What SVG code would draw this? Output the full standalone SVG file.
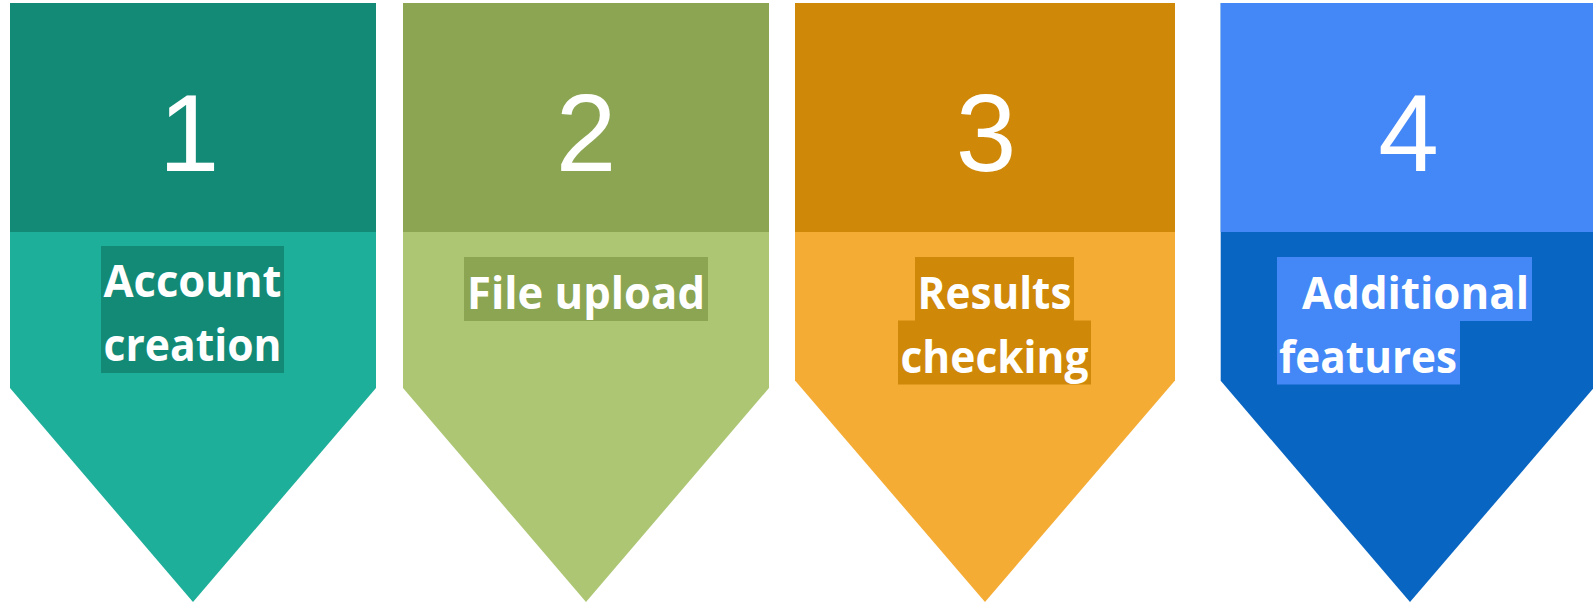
<svg xmlns="http://www.w3.org/2000/svg" width="1593" height="604" viewBox="0 0 1593 604">
<style>
.num{font-family:"Liberation Sans",Arial,sans-serif;font-size:109px;fill:#ffffff;text-anchor:middle}
.lbl{font-family:"Open Sans","Liberation Sans",sans-serif;font-weight:bold;font-size:45px;fill:#ffffff}
.mid{text-anchor:middle}
</style>
<rect width="1593" height="604" fill="#ffffff"/>
<g id="node1">
<polygon points="10,3 376,3 376,388 193,602 10,388" fill="#1DAF99"/>
<rect x="10" y="3" width="366" height="229" fill="#138A76"/>
<text class="num" x="189" y="171">1</text>
<rect x="101" y="246" width="183" height="127" fill="#138A76"/>
<text class="lbl mid" x="192.5" y="296.5" textLength="178" lengthAdjust="spacingAndGlyphs">Account</text>
<text class="lbl mid" x="192.5" y="360.5" textLength="178" lengthAdjust="spacingAndGlyphs">creation</text>
</g>
<g id="node2">
<polygon points="403,3 769,3 769,388 586,602 403,388" fill="#ADC673"/>
<rect x="403" y="3" width="366" height="229" fill="#8BA552"/>
<text class="num" x="586" y="171">2</text>
<rect x="464" y="257" width="244" height="64" fill="#8BA552"/>
<text class="lbl mid" x="586" y="308.5" textLength="238" lengthAdjust="spacingAndGlyphs">File upload</text>
</g>
<g id="node3">
<polygon points="795,3 1175,3 1175,380.5 985,602 795,380.5" fill="#F5AC34"/>
<rect x="795" y="3" width="380" height="229" fill="#D08808"/>
<text class="num" x="986" y="171">3</text>
<rect x="915" y="257" width="159" height="64" fill="#D08808"/>
<rect x="898" y="320.5" width="193" height="64" fill="#D08808"/>
<text class="lbl mid" x="994.5" y="308.5" textLength="154" lengthAdjust="spacingAndGlyphs">Results</text>
<text class="lbl mid" x="994.5" y="372.5" textLength="188" lengthAdjust="spacingAndGlyphs">checking</text>
</g>
<g id="node4">
<polygon points="1220.7,3 1600,3 1600,380.7 1410,602 1220.7,380.7" fill="#0865C2"/>
<rect x="1220.7" y="3" width="380" height="229" fill="#4487F6"/>
<text class="num" x="1408.5" y="171">4</text>
<rect x="1277" y="257" width="255" height="64" fill="#4487F6"/>
<rect x="1277" y="320.5" width="183" height="64" fill="#4487F6"/>
<text class="lbl" x="1302" y="308.5" textLength="227" lengthAdjust="spacingAndGlyphs">Additional</text>
<text class="lbl" x="1279" y="372.5" textLength="178" lengthAdjust="spacingAndGlyphs">features</text>
</g>
<g id="connectors"/>
</svg>
